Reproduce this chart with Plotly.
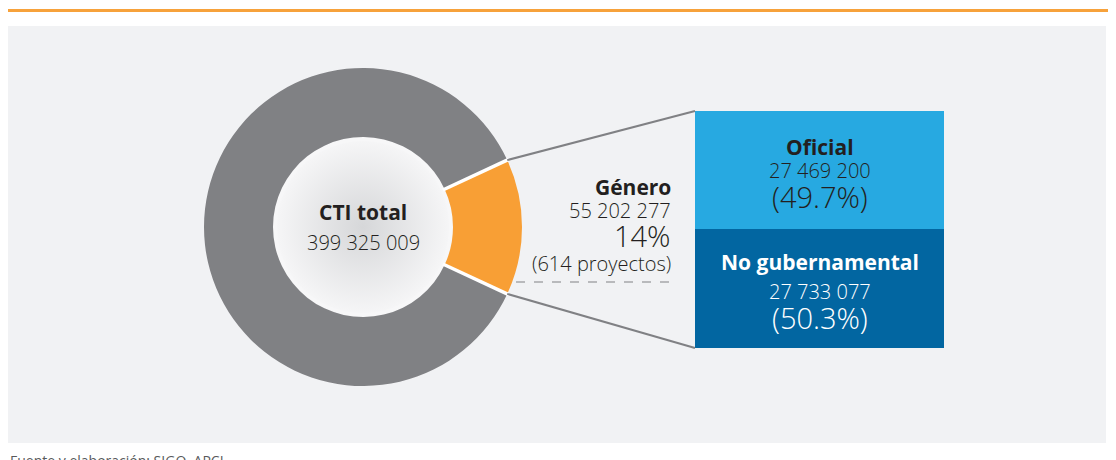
import math
import plotly.graph_objects as go

# ---------------- data ----------------
total_label = "CTI total"
total_value = 399325009
genero_label = "Género"
genero_value = 55202277
genero_pct_label = "14%"
genero_projects = "(614 proyectos)"

sub_labels = ["Oficial", "No gubernamental"]
sub_values = [27469200, 27733077]
sub_pct_labels = ["(49.7%)", "(50.3%)"]

source_text = "Fuente y elaboración: SIGO, APCI"

# ---------------- style / layout constants ----------------
PAGE_W, PAGE_H = 1116, 460
OFF = 8                      # default body margin of the html page
W, H = PAGE_W - OFF, PAGE_H - OFF
FONT = "Open Sans"
TXT = "#231f20"
GRAY = "#808184"
ORANGE = "#f89f35"
LBLUE = "#27a9e1"
DBLUE = "#0266a1"
PANEL = "#f1f2f4"

CX, CY, R = 363, 227, 159          # donut centre / radius (page px)
HOLE_R = 90
BOX = dict(x0=695, x1=944, y0=111, y1=348)  # stacked box extent (page px)


def px(x):
    return (x - OFF) / W


def py(y):
    return 1 - (y - OFF) / H


def fmt(v):
    return f"{v:,}".replace(",", " ")


share = genero_value / total_value
rest_value = total_value - genero_value
half_angle = share * 180.0

fig = go.Figure()

# donut
fig.add_trace(go.Pie(
    values=[genero_value, rest_value],
    labels=[genero_label, "Resto"],
    sort=False,
    direction="clockwise",
    rotation=90 - half_angle,
    hole=HOLE_R / R,
    marker=dict(colors=[ORANGE, GRAY], line=dict(width=0)),
    textinfo="none",
    hoverinfo="label+value+percent",
    showlegend=False,
    domain=dict(x=[px(CX - R), px(CX + R)], y=[py(CY + R), py(CY - R)]),
))

# centre disc with gradient
fig.add_trace(go.Scatter(
    x=[CX], y=[CY], mode="markers",
    marker=dict(size=2 * HOLE_R - 4, color="#f6f6f7",
                gradient=dict(type="radial", color="#d6d7d9"),
                line=dict(color="#f7f7f8", width=4)),
    hoverinfo="skip", showlegend=False, xaxis="x", yaxis="y",
))

# stacked box (bottom: No gubernamental, top: Oficial)
fig.add_trace(go.Bar(
    x=[0], y=[sub_values[1]], width=[1], marker=dict(color=DBLUE, line=dict(width=0)),
    name=sub_labels[1], xaxis="x2", yaxis="y2", showlegend=False, hoverinfo="name+y",
))
fig.add_trace(go.Bar(
    x=[0], y=[sub_values[0]], width=[1], marker=dict(color=LBLUE, line=dict(width=0)),
    name=sub_labels[0], xaxis="x2", yaxis="y2", showlegend=False, hoverinfo="name+y",
))

shapes = [
    # orange rule at top
    dict(type="rect", xref="paper", yref="paper", x0=px(3), x1=px(PAGE_W), y0=py(12), y1=py(9),
         fillcolor="#f7a23b", line=dict(width=0), layer="below"),
    # panel
    dict(type="rect", xref="paper", yref="paper", x0=px(4), x1=px(1106), y0=py(443), y1=py(26),
         fillcolor=PANEL, line=dict(width=0), layer="below"),
]

ca = math.cos(math.radians(half_angle))
sa = math.sin(math.radians(half_angle))
tx, ty = CX + R * ca, CY - R * sa
bx, by = CX + R * ca, CY + R * sa
# white separators between slices
for sgn in (-1, 1):
    shapes.append(dict(type="line", xref="x", yref="y",
                       x0=CX + (HOLE_R - 2) * ca, y0=CY + sgn * (HOLE_R - 2) * sa,
                       x1=CX + (R + 1) * ca, y1=CY + sgn * (R + 1) * sa,
                       line=dict(color="white", width=3.5), layer="above"))
shapes += [
    dict(type="line", xref="x", yref="y", x0=tx, y0=ty, x1=BOX["x0"], y1=BOX["y0"],
         line=dict(color=GRAY, width=2), layer="above"),
    dict(type="line", xref="x", yref="y", x0=bx, y0=by, x1=BOX["x0"], y1=BOX["y1"],
         line=dict(color=GRAY, width=2), layer="above"),
    dict(type="line", xref="x", yref="y", x0=516, y0=282, x1=673, y1=282,
         line=dict(color=GRAY, width=1, dash="dash"), layer="above"),
]

ann = []


def add(text, x, y, size, color=TXT, bold=False, xanchor="center", weight=None):
    t = f"<b>{text}</b>" if bold else text
    f = dict(family=FONT, size=size, color=color)
    if weight is not None:
        f["weight"] = weight
    ann.append(dict(text=t, x=x, y=y, xref="x", yref="y", showarrow=False,
                    xanchor=xanchor, yanchor="middle", font=f))


# centre
add(total_label, CX, 212, 21, bold=True)
add(fmt(total_value), CX, 242, 20, weight=300)

# género
add(genero_label, 673, 187, 21, bold=True, xanchor="right")
add(fmt(genero_value), 673, 210, 20, xanchor="right", weight=300)
add(genero_pct_label, 673, 235, 29, xanchor="right", weight=300)
add(genero_projects, 673, 263, 20, xanchor="right", weight=300)

# box texts
bcx = (BOX["x0"] + BOX["x1"]) / 2
add(sub_labels[0], bcx, 147, 21, bold=True)
add(fmt(sub_values[0]), bcx, 170, 20, weight=300)
add(sub_pct_labels[0], bcx, 196, 29, weight=300)
add(sub_labels[1], bcx, 262, 21, color="white", bold=True)
add(fmt(sub_values[1]), bcx, 291, 20, color="white", weight=300)
add(sub_pct_labels[1], bcx, 317, 29, color="white", weight=300)

# source
ann.append(dict(text=source_text, x=px(8), y=py(449), xref="paper", yref="paper",
                showarrow=False, xanchor="left", yanchor="top",
                font=dict(family=FONT, size=14, color="#58595b")))

fig.update_layout(
    width=W, height=H,
    margin=dict(l=0, r=0, t=0, b=0),
    paper_bgcolor="white",
    plot_bgcolor="rgba(0,0,0,0)",
    barmode="stack",
    shapes=shapes,
    annotations=ann,
    xaxis=dict(range=[OFF, PAGE_W], domain=[0, 1], visible=False, fixedrange=True),
    yaxis=dict(range=[PAGE_H, OFF], domain=[0, 1], visible=False, fixedrange=True),
    xaxis2=dict(range=[-0.5, 0.5], domain=[px(BOX["x0"]), px(BOX["x1"])], anchor="y2",
                visible=False, fixedrange=True),
    yaxis2=dict(range=[0, sum(sub_values)], domain=[py(BOX["y1"]), py(BOX["y0"])],
                anchor="x2", visible=False, fixedrange=True),
    showlegend=False,
)

fig.write_html("out.html")
